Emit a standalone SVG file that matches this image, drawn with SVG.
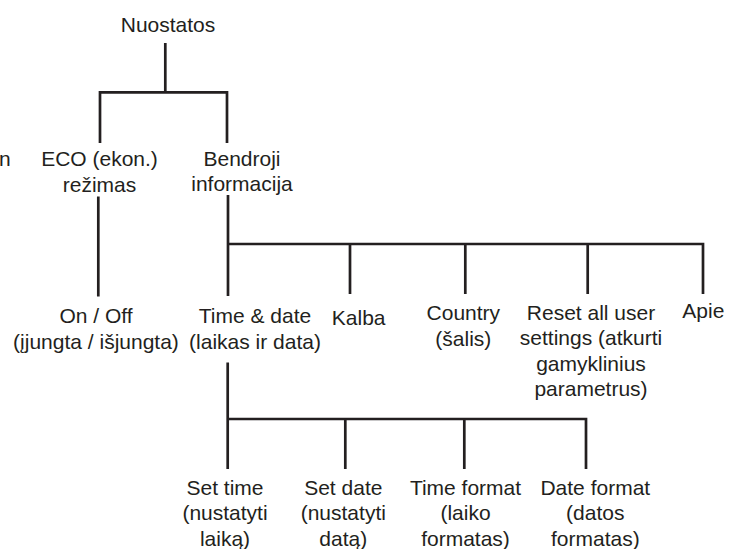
<svg xmlns="http://www.w3.org/2000/svg" width="729" height="549" viewBox="0 0 729 549">
<style>
  text { font-family: "Liberation Sans", Arial, sans-serif; font-size: 21px; fill: #231f20; text-anchor: middle; }
  .c { fill: none; stroke: #231f20; stroke-width: 2.7; stroke-linecap: butt; stroke-linejoin: miter; }
</style>
<rect width="729" height="549" fill="#ffffff"/>
<g id="connectors">
  <path class="c" d="M165.3 43 V92.3 M100 143 V92.3 H227 V143"/>
  <path class="c" d="M98.3 196.5 V296.5"/>
  <path class="c" d="M228 195 V296 M228 244 H703 V294 M350 244 V294 M465.3 244 V294 M587.7 244 V294"/>
  <path class="c" d="M227.7 362.5 V469 M227.7 419 H586 V469 M345.3 419 V469 M464.3 419 V469"/>
</g>
<g id="edge-fragment"><text x="-1" y="166" style="text-anchor:start">n</text></g>
<g id="nuostatos"><text x="168" y="32">Nuostatos</text></g>
<g id="eco"><text x="99.5" y="166">ECO (ekon.)</text><text x="99.5" y="191.5">režimas</text></g>
<g id="bendroji"><text x="242" y="165.5">Bendroji</text><text x="242" y="191">informacija</text></g>
<g id="onoff"><text x="96" y="323">On / Off</text><text x="96" y="348.5">(įjungta / išjungta)</text></g>
<g id="timedate"><text x="255" y="323">Time &amp; date</text><text x="255" y="348.5">(laikas ir data)</text></g>
<g id="kalba"><text x="358.7" y="324.5">Kalba</text></g>
<g id="country"><text x="463.3" y="320">Country</text><text x="463.3" y="345.5">(šalis)</text></g>
<g id="reset"><text x="591" y="319.5">Reset all user</text><text x="591" y="345">settings (atkurti</text><text x="591" y="370.5">gamyklinius</text><text x="591" y="396">parametrus)</text></g>
<g id="apie"><text x="703.3" y="317.5">Apie</text></g>
<g id="settime"><text x="225" y="494.5">Set time</text><text x="225" y="520">(nustatyti</text><text x="225" y="545.5">laiką)</text></g>
<g id="setdate"><text x="343.3" y="494.5">Set date</text><text x="343.3" y="520">(nustatyti</text><text x="343.3" y="545.5">datą)</text></g>
<g id="timeformat"><text x="465.5" y="494.5">Time format</text><text x="465.5" y="520">(laiko</text><text x="465.5" y="545.5">formatas)</text></g>
<g id="dateformat"><text x="595.3" y="494.5">Date format</text><text x="595.3" y="520">(datos</text><text x="595.3" y="545.5">formatas)</text></g>
</svg>
